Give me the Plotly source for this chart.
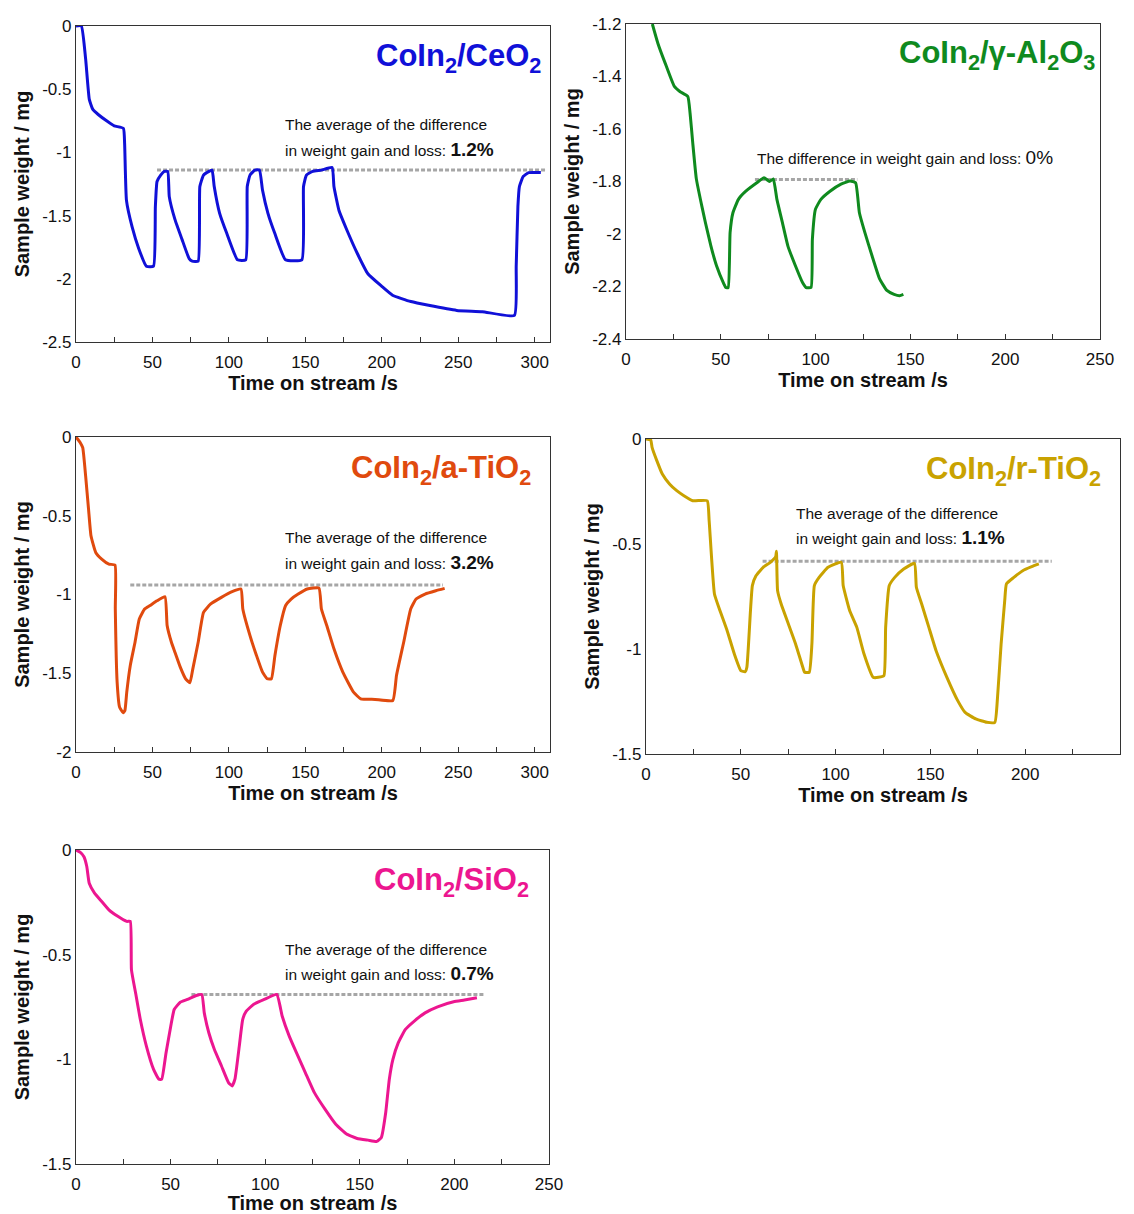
import plotly.graph_objects as go

# ---------------- data ----------------
# CoIn2/CeO2
t_ceo2 = [0, 3.5, 6.3, 8.7, 11, 14.5, 20, 25, 31, 31.8, 33, 36.7, 41, 46, 50.7,
          51.9, 53, 55.4, 57.7, 60, 61, 64.7, 69.4, 74, 76, 79.9,
          81, 83.4, 87, 89, 90.4, 93.9, 98.6, 105.6, 111,
          112, 113.8, 117, 120, 122, 125.5, 130, 137, 147.7,
          148.8, 150.7, 154.7, 160.5, 167.5, 168.7, 172, 177, 184, 190.9, 200, 207, 219, 230.6, 249, 265.7, 286.7,
          287.9, 289, 290, 292.5, 296, 304]
w_ceo2 = [0, 0, -0.26, -0.58, -0.66, -0.70, -0.75, -0.79, -0.81, -0.93, -1.38, -1.59, -1.76, -1.90, -1.90,
          -1.43, -1.23, -1.18, -1.15, -1.15, -1.35, -1.53, -1.69, -1.84, -1.86, -1.86,
          -1.27, -1.18, -1.15, -1.14, -1.27, -1.48, -1.64, -1.85, -1.85,
          -1.27, -1.18, -1.14, -1.14, -1.30, -1.48, -1.64, -1.85, -1.85,
          -1.27, -1.18, -1.15, -1.14, -1.12, -1.27, -1.46, -1.61, -1.80, -1.96, -2.06, -2.13, -2.18, -2.21, -2.25, -2.26, -2.29,
          -1.90, -1.43, -1.27, -1.19, -1.16, -1.16]

# CoIn2/gamma-Al2O3
t_al2o3 = [13.9, 16.8, 20.7, 25.5, 28.4, 32.6, 33.8, 35.2, 37.1, 40, 41.9, 44.8, 47.7, 51.6, 52.6, 53.9,
           54.9, 56.4, 59.3, 63.2, 69, 72.8, 75.7, 77.7,
           79.6, 82.5, 85.4, 89.3, 93.1, 95, 97.6,
           98.3, 99.9, 102.8, 107.6, 113.4, 118.2, 121.1,
           123.1, 126, 129.8, 133.7, 137.6, 141.4, 144.3, 146.3]
w_al2o3 = [-1.20, -1.273, -1.35, -1.438, -1.457, -1.476, -1.54, -1.653, -1.79, -1.894, -1.957, -2.046, -2.12, -2.19, -2.204, -2.204,
           -1.995, -1.919, -1.868, -1.837, -1.805, -1.786, -1.80, -1.79,
           -1.868, -1.957, -2.046, -2.12, -2.185, -2.204, -2.204,
           -2.02, -1.906, -1.868, -1.837, -1.81, -1.798, -1.805,
           -1.919, -1.995, -2.084, -2.17, -2.215, -2.23, -2.235, -2.23]

# CoIn2/a-TiO2
t_atio2 = [0, 2.8, 4.4, 6.3, 8.2, 9.8, 12.9, 16.8, 21.5, 25.5, 25.7, 26.9, 28.5, 30.8, 32, 33.2,
           35.5, 38.6, 41.4, 44.9, 48.4, 53, 58.2,
           59.6, 62.4, 64.7, 68.2, 71.7, 74.5,
           76.4, 79.9, 83.4, 88.1, 95.1, 102.1, 107.9,
           109.1, 113.8, 117.3, 122, 125, 127.8,
           130.1, 133.6, 137.1, 140.7, 145.3, 151.2, 158.9,
           160.5, 164, 168.7, 174.5, 181.5, 186.2, 195.6, 207.2,
           209.6, 214.3, 218.9, 222.4, 228.3, 235.3, 241.1]
w_atio2 = [0, -0.036, -0.068, -0.247, -0.458, -0.627, -0.733, -0.775, -0.807, -0.813, -1.09, -1.556, -1.715, -1.751, -1.736, -1.62,
           -1.45, -1.303, -1.155, -1.092, -1.07, -1.04, -1.014,
           -1.197, -1.303, -1.366, -1.461, -1.535, -1.56,
           -1.472, -1.303, -1.113, -1.06, -1.018, -0.982, -0.965,
           -1.092, -1.261, -1.366, -1.493, -1.535, -1.535,
           -1.387, -1.197, -1.07, -1.029, -0.997, -0.965, -0.959,
           -1.092, -1.197, -1.345, -1.493, -1.62, -1.662, -1.666, -1.673,
           -1.514, -1.303, -1.092, -1.029, -0.997, -0.976, -0.961]

# CoIn2/r-TiO2
t_rtio2 = [0, 2.5, 3.2, 5.7, 8.6, 12.4, 16.2, 20, 24.7, 32.3,
           33.3, 36.1, 39, 42.8, 46.6, 50, 52.3, 53.2,
           55.1, 56.1, 58, 61.8, 65.6, 68.4, 68.8,
           69.4, 71.3, 75.1, 78.9, 82.7, 83.7, 86.1,
           87.5, 88.8, 91.3, 96, 103,
           104, 107.4, 111.2, 115, 119.8, 122.6, 125.5,
           126.4, 128.3, 131.2, 135.9, 141.6,
           142.6, 145.4, 149.2, 153, 158.7, 164.4, 168.3, 173.9, 179.7, 184,
           185.4, 187.3, 189.2, 190.1, 194, 198.7, 203.4, 207.2]
w_rtio2 = [0, -0.005, -0.04, -0.103, -0.167, -0.214, -0.246, -0.27, -0.294, -0.294,
           -0.389, -0.738, -0.817, -0.913, -1.024, -1.103, -1.108, -1.087,
           -0.817, -0.698, -0.651, -0.611, -0.587, -0.56, -0.535,
           -0.722, -0.786, -0.881, -0.976, -1.087, -1.111, -1.111,
           -0.976, -0.698, -0.659, -0.611, -0.587,
           -0.698, -0.817, -0.897, -1.024, -1.135, -1.135, -1.127,
           -0.897, -0.698, -0.659, -0.619, -0.592,
           -0.706, -0.786, -0.897, -1.008, -1.135, -1.246, -1.302, -1.333, -1.349, -1.349,
           -1.23, -0.976, -0.77, -0.69, -0.659, -0.627, -0.608, -0.595]

# CoIn2/SiO2
t_sio2 = [0, 2.3, 4.2, 5.7, 7, 9.8, 13.6, 17.4, 22.1, 26.8, 28.7,
          29.3, 31.5, 34, 37.2, 41, 43.8, 45.3,
          47.6, 50.1, 51.9, 55.1, 58.9, 63.6, 66.5,
          67.8, 70.2, 73.1, 76.9, 80.6, 82.5, 84,
          86.3, 88.1, 90, 93.8, 99.5, 106.1,
          109, 112.7, 116.5, 121.2, 126, 131.6, 137.3, 143, 148.6, 154.3, 159, 161.4,
          163.7, 165.6, 167.5, 170.3, 174.1, 178.8, 184.5, 191.1, 199.6, 205.3, 211.9]
w_sio2 = [0, -0.011, -0.032, -0.079, -0.159, -0.206, -0.246, -0.286, -0.317, -0.341, -0.341,
          -0.571, -0.683, -0.81, -0.937, -1.048, -1.095, -1.095,
          -0.968, -0.841, -0.762, -0.727, -0.714, -0.695, -0.69,
          -0.778, -0.873, -0.952, -1.032, -1.111, -1.127, -1.095,
          -0.937, -0.81, -0.77, -0.738, -0.714, -0.69,
          -0.794, -0.889, -0.968, -1.063, -1.159, -1.238, -1.31, -1.357, -1.378, -1.386, -1.392, -1.373,
          -1.254, -1.095, -1.0, -0.921, -0.857, -0.817, -0.778, -0.749, -0.725, -0.717, -0.706]

# reference (dashed) levels: [t_start, t_end], level
ref_t_ceo2, ref_w_ceo2 = [53, 307], -1.14
ref_t_al2o3, ref_w_al2o3 = [68, 122], -1.792
ref_t_atio2, ref_w_atio2 = [35.5, 240], -0.94
ref_t_rtio2, ref_w_rtio2 = [61.5, 214], -0.582
ref_t_sio2, ref_w_sio2 = [61, 215.5], -0.69

values = ["1.2%", "0%", "3.2%", "1.1%", "0.7%"]
titles = ["CoIn<sub>2</sub>/CeO<sub>2</sub>",
          "CoIn<sub>2</sub>/γ-Al<sub>2</sub>O<sub>3</sub>",
          "CoIn<sub>2</sub>/a-TiO<sub>2</sub>",
          "CoIn<sub>2</sub>/r-TiO<sub>2</sub>",
          "CoIn<sub>2</sub>/SiO<sub>2</sub>"]

x_title = "Time on stream /s"
y_title = "Sample weight / mg"

yt_ceo2 = [0, -0.5, -1, -1.5, -2, -2.5]
yl_ceo2 = ["0", "-0.5", "-1", "-1.5", "-2", "-2.5"]
yt_al2o3 = [-1.2, -1.4, -1.6, -1.8, -2.0, -2.2, -2.4]
yl_al2o3 = ["-1.2", "-1.4", "-1.6", "-1.8", "-2", "-2.2", "-2.4"]
yt_atio2 = [0, -0.5, -1, -1.5, -2]
yl_atio2 = ["0", "-0.5", "-1", "-1.5", "-2"]
yt_15 = [0, -0.5, -1, -1.5]
yl_15 = ["0", "-0.5", "-1", "-1.5"]

# ---------------- styling ----------------
W, H = 1134, 1214
FONT = "Arial, Liberation Sans, sans-serif"
colors = ["#1010D8", "#0F8A1E", "#E04A0E", "#C9A200", "#EC1690"]

# panel pixel boxes: (left, right, top, bottom)
boxes = [(76, 550, 26, 342), (626, 1100, 24, 339), (76, 550, 437, 752),
         (646, 1120, 439, 754), (76, 549, 850, 1164)]
xranges = [[0, 310], [0, 250], [0, 310], [0, 250], [0, 250]]
yranges = [[-2.5, 0], [-2.4, -1.2], [-2, 0], [-1.5, 0], [-1.5, 0]]
yticks = [(yt_ceo2, yl_ceo2), (yt_al2o3, yl_al2o3), (yt_atio2, yl_atio2), (yt_15, yl_15), (yt_15, yl_15)]
series = [(t_ceo2, w_ceo2), (t_al2o3, w_al2o3), (t_atio2, w_atio2), (t_rtio2, w_rtio2), (t_sio2, w_sio2)]
refs = [(ref_t_ceo2, ref_w_ceo2), (ref_t_al2o3, ref_w_al2o3), (ref_t_atio2, ref_w_atio2),
        (ref_t_rtio2, ref_w_rtio2), (ref_t_sio2, ref_w_sio2)]
# annotation anchors in data units: (t_left, w_line1, w_line2)
notes = [(135.6, -0.78, -0.98), (68, None, -1.71), (135.6, -0.635, -0.794),
         (78, -0.357, -0.471), (109.4, -0.473, -0.588)]
title_pos = [(0.985, 0.90), (0.994, 0.90), (0.964, 0.895), (0.964, 0.898), (0.962, 0.898)]

fig = go.Figure()
layout = dict(width=W, height=H, margin=dict(l=0, r=0, t=0, b=0, autoexpand=False),
              paper_bgcolor="white", plot_bgcolor="white", showlegend=False,
              font=dict(family=FONT, color="#111"))
annotations = []
for i in range(5):
    n = "" if i == 0 else str(i + 1)
    xa, ya = "x" + n, "y" + n
    l, r, tp, bt = boxes[i]
    tx, wy = series[i]
    rt, rw = refs[i]
    fig.add_trace(go.Scatter(x=rt, y=[rw, rw], xaxis=xa, yaxis=ya, mode="lines",
                             line=dict(color="#A6A6A6", width=3, dash="4px,2px"), hoverinfo="skip"))
    fig.add_trace(go.Scatter(x=tx, y=wy, xaxis=xa, yaxis=ya, mode="lines",
                             line=dict(color=colors[i], width=3, shape="spline", smoothing=0.4),
                             cliponaxis=False))
    layout["xaxis" + n] = dict(domain=[l / W, r / W], anchor=ya, range=xranges[i], automargin=False,
                               showline=True, linecolor="#333", linewidth=1.3, mirror=True,
                               showgrid=False, zeroline=False, ticks="inside", ticklen=5,
                               tickcolor="#333", dtick=50, tick0=0, ticklabelstandoff=4,
                               minor=dict(dtick=25, ticks="inside", ticklen=5, tickcolor="#333", showgrid=False),
                               tickfont=dict(size=17, color="#111"),
                               title=dict(text="<b>" + x_title + "</b>", font=dict(size=20, color="#111"), standoff=2))
    layout["yaxis" + n] = dict(domain=[1 - bt / H, 1 - tp / H], anchor=xa, range=yranges[i], automargin=False,
                               showline=True, linecolor="#333", linewidth=1.3, mirror=True,
                               showgrid=False, zeroline=False, ticks="",
                               tickvals=yticks[i][0], ticktext=yticks[i][1],
                               tickfont=dict(size=17, color="#111"),
                               title=dict(text="<b>" + y_title + "</b>", font=dict(size=20, color="#111"), standoff=7))
    # panel title
    annotations.append(dict(text="<b>" + titles[i] + "</b>", xref=xa + " domain", yref=ya + " domain",
                            x=title_pos[i][0], y=title_pos[i][1], xanchor="right", yanchor="middle",
                            showarrow=False, font=dict(size=31, color=colors[i])))
    tl, w1, w2 = notes[i]
    if w1 is not None:
        annotations.append(dict(text="The average of the difference", xref=xa, yref=ya, x=tl, y=w1,
                                xanchor="left", yanchor="middle", showarrow=False,
                                font=dict(size=15.5, color="#111")))
        annotations.append(dict(text="in weight gain and loss: <b><span style='font-size:19px'>" + values[i] + "</span></b>",
                                xref=xa, yref=ya, x=tl, y=w2, xanchor="left", yanchor="middle",
                                showarrow=False, font=dict(size=15.5, color="#111")))
    else:
        annotations.append(dict(text="The difference in weight gain and loss: <span style='font-size:19px'>" + values[i] + "</span>",
                                xref=xa, yref=ya, x=tl, y=w2, xanchor="left", yanchor="middle",
                                showarrow=False, font=dict(size=15.5, color="#111")))

layout["annotations"] = annotations
fig.update_layout(**layout)
fig.write_html("out.html")
